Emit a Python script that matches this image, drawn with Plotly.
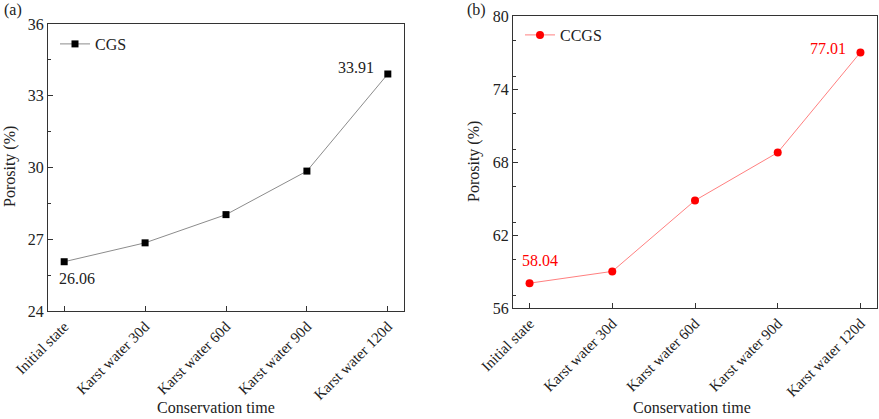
import plotly.graph_objects as go
from plotly.subplots import make_subplots

stages = ["Initial state", "Karst water 30d", "Karst water 60d",
          "Karst water 90d", "Karst water 120d"]
cgs = [26.06, 26.85, 28.03, 29.85, 33.91]
ccgs = [58.04, 59.01, 64.84, 68.78, 77.01]

font = "Liberation Serif, Times New Roman, serif"
W, H = 879, 419

fig = make_subplots(rows=1, cols=2)

fig.add_trace(go.Scatter(
    x=stages, y=cgs, mode="lines+markers", name="CGS",
    line=dict(color="#8c8c8c", width=1),
    marker=dict(symbol="square", size=7, color="black"),
    legend="legend"), row=1, col=1)

fig.add_trace(go.Scatter(
    x=stages, y=ccgs, mode="lines+markers", name="CCGS",
    line=dict(color="#ff8080", width=1),
    marker=dict(symbol="circle", size=8, color="#ff0000"),
    legend="legend2"), row=1, col=2)

axis_common = dict(showline=True, linecolor="#333333", linewidth=1, mirror=True,
                   showgrid=False, zeroline=False, ticks="inside", automargin=False,
                   tickcolor="#333333")

fig.update_xaxes(**axis_common, tickangle=-45, ticklen=5, range=[-0.2, 4.2],
                 tickfont=dict(family=font, size=15, color="#222222"))

fig.update_yaxes(**axis_common, ticklen=5,
                 tickfont=dict(family=font, size=16, color="#222222"))
fig.update_yaxes(range=[24, 36], dtick=3, tick0=24,
                 minor=dict(ticks="inside", dtick=1.5, ticklen=3, tickcolor="#333333"),
                 row=1, col=1)
fig.update_yaxes(range=[56, 80], dtick=6, tick0=56,
                 minor=dict(ticks="inside", dtick=3, ticklen=3, tickcolor="#333333"),
                 row=1, col=2)

def px(x):
    return x / W

def py(y):
    return 1 - y / H

fig.update_layout(
    width=W, height=H,
    margin=dict(l=0, r=0, t=0, b=0, autoexpand=False),
    paper_bgcolor="white", plot_bgcolor="white",
    font=dict(family=font, color="#222222"),
    xaxis=dict(domain=[px(48), px(404)]),
    yaxis=dict(domain=[py(311), py(24)]),
    xaxis2=dict(domain=[px(513), px(877)]),
    yaxis2=dict(domain=[py(308), py(16)]),
    legend=dict(x=px(55), y=py(27), xanchor="left", yanchor="top",
                bgcolor="rgba(0,0,0,0)", font=dict(family=font, size=16)),
    legend2=dict(x=px(520), y=py(18), xanchor="left", yanchor="top",
                 bgcolor="rgba(0,0,0,0)", font=dict(family=font, size=16)),
    showlegend=True,
)

ann = [
    dict(text="(a)", x=px(2), y=py(10), xanchor="left"),
    dict(text="(b)", x=px(465), y=py(10), xanchor="left"),
    dict(text="Porosity (%)", x=px(10), y=py(167), textangle=-90),
    dict(text="Porosity (%)", x=px(474), y=py(162), textangle=-90),
    dict(text="Conservation time", x=px(216), y=py(407)),
    dict(text="Conservation time", x=px(692), y=py(407)),
]
for a in ann:
    a.setdefault("xanchor", "center")
    fig.add_annotation(xref="paper", yref="paper", showarrow=False, yanchor="middle",
                       font=dict(family=font, size=16, color="#222222"), **a)

fig.add_annotation(x=stages[0], y=cgs[0], xref="x", yref="y", text=f"{cgs[0]:.2f}",
                   showarrow=False, yshift=-17, xshift=13,
                   font=dict(family=font, size=16, color="#222222"))
fig.add_annotation(x=stages[-1], y=cgs[-1], xref="x", yref="y", text=f"{cgs[-1]:.2f}",
                   showarrow=False, yshift=6, xshift=-32,
                   font=dict(family=font, size=16, color="#222222"))
fig.add_annotation(x=stages[0], y=ccgs[0], xref="x2", yref="y2", text=f"{ccgs[0]:.2f}",
                   showarrow=False, yshift=23, xshift=10,
                   font=dict(family=font, size=16, color="#ff0000"))
fig.add_annotation(x=stages[-1], y=ccgs[-1], xref="x2", yref="y2", text=f"{ccgs[-1]:.2f}",
                   showarrow=False, yshift=4, xshift=-32,
                   font=dict(family=font, size=16, color="#ff0000"))

# drop the default 8px body margin so the figure sits at the page corner
fig.write_html("out.html", config={"displayModeBar": False},
               post_script="document.body.style.margin='0px';")
